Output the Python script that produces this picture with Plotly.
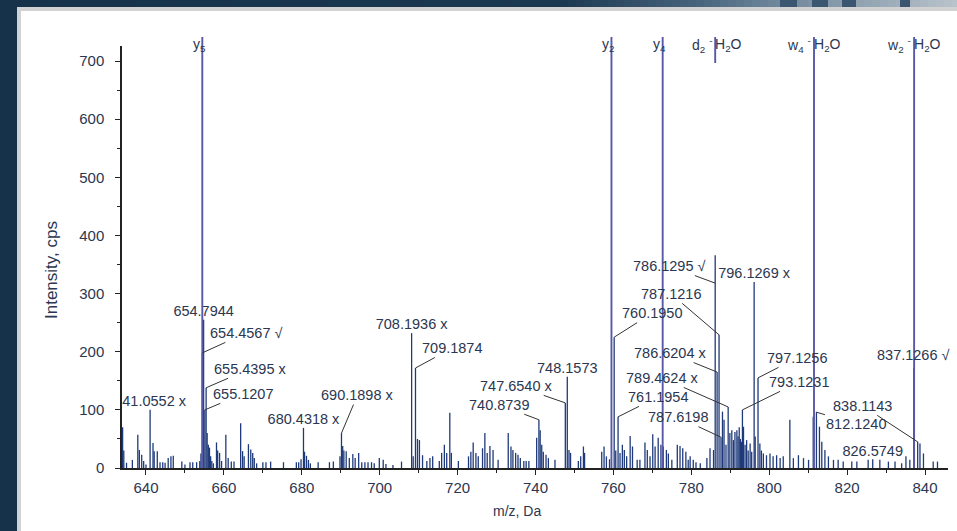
import plotly.graph_objects as go

# ---------------- data ----------------
peak_mz = [634.0, 634.3, 635.0, 636.5, 637.9, 638.3, 638.9, 639.4, 640.0, 641.0552, 641.8, 642.1, 642.9,
           643.6, 644.3, 644.9, 645.7, 646.4, 647.0, 649.2, 650.0, 651.3, 652.0, 653.0, 653.8, 654.1,
           654.4567, 654.7944, 655.1207, 655.4395, 655.7, 656.0, 656.3, 656.6, 656.9, 657.3, 658.1, 658.4,
           658.9, 659.4, 660.5, 661.1, 661.9, 662.6, 664.3, 664.8, 665.2, 666.3, 666.9, 667.4, 667.8, 668.4,
           670.0, 670.8, 672.0, 675.3, 678.6, 679.2, 679.8, 680.4318, 680.7, 681.2, 681.7, 682.2, 684.2,
           687.1, 688.1, 689.8, 690.1898, 690.5, 690.8, 691.4, 692.2, 693.1, 693.7, 694.6, 695.4, 696.2,
           697.0, 697.9, 698.6, 699.9, 700.9, 701.6, 703.4, 705.6, 708.1936, 708.6, 709.1874, 709.7, 710.2,
           711.0, 712.1, 712.9, 713.6, 715.3, 715.9, 716.6, 717.2, 718.0, 718.4, 720.2, 722.8, 723.4, 724.0,
           724.7, 725.3, 726.4, 727.0, 727.6, 728.3, 729.1, 730.4, 733.0, 733.7, 734.2, 734.9, 735.5, 736.1,
           737.0, 737.6, 738.3, 740.3, 740.8739, 741.2, 741.6, 742.0, 742.7, 743.3, 745.0, 747.654,
           748.1573, 748.6, 749.0, 751.0, 751.6, 752.3, 752.6, 757.0, 757.6, 758.2, 759.0, 760.195, 760.6,
           761.1954, 761.7, 762.3, 762.8, 763.4, 764.3, 764.9, 766.1, 766.8, 768.1, 768.7, 769.4, 770.1,
           770.7, 771.5, 772.2, 772.8, 773.6, 774.1, 775.0, 776.4, 777.1, 777.8, 778.6, 779.2, 779.7, 780.5,
           781.2, 782.3, 784.0, 784.8, 785.7, 786.1295, 786.6204, 787.1216, 787.6198, 788.0, 788.4, 788.9,
           789.4624, 789.9, 790.4, 790.8, 791.2, 791.7, 792.0, 792.3, 792.6, 792.9, 793.1231, 793.4, 793.8,
           794.2, 794.6, 795.1, 795.5, 796.1269, 796.4, 797.1256, 797.6, 798.0, 798.5, 799.3, 800.2, 801.0,
           801.9, 802.8, 803.6, 805.3, 806.2, 807.5, 808.8, 810.1, 811.3, 812.124, 812.9, 813.5, 814.3,
           815.2, 816.5, 817.7, 819.0, 821.2, 822.5, 825.4, 826.5749, 828.4, 830.6, 832.3, 834.0, 835.1,
           836.1, 837.1266, 838.1143, 838.7, 839.6, 842.1, 843.2]
peak_int = [70, 30, 9, 14, 57, 31, 23, 12, 6, 100, 43, 29, 29,
            10, 10, 9, 17, 20, 21, 11, 6, 10, 10, 10, 12, 25,
            198, 255, 100, 138, 60, 40, 35, 20, 12, 8, 44, 30,
            26, 12, 57, 17, 11, 11, 77, 29, 20, 41, 32, 26, 17, 8,
            10, 10, 11, 10, 10, 10, 15, 69, 28, 21, 14, 8, 10,
            10, 11, 20, 60, 38, 30, 29, 17, 24, 17, 26, 10, 10,
            10, 10, 8, 17, 14, 7, 5, 11, 232, 20, 172, 50, 48,
            22, 12, 17, 20, 12, 26, 40, 26, 95, 26, 12, 20, 28, 44,
            26, 20, 34, 60, 26, 38, 31, 14, 60, 37, 31, 26, 23, 17,
            12, 12, 12, 52, 83, 65, 40, 28, 23, 17, 14, 112,
            157, 31, 26, 12, 20, 37, 26, 28, 37, 20, 15, 225, 30,
            88, 26, 40, 31, 20, 55, 37, 14, 14, 44, 31, 20, 58,
            37, 52, 40, 37, 31, 25, 14, 40, 38, 34, 28, 14, 20, 14,
            10, 8, 17, 34, 31, 366, 165, 229, 53, 97, 83, 40,
            105, 60, 65, 48, 62, 65, 54, 70, 50, 45, 100, 71, 40,
            48, 30, 42, 28, 320, 54, 155, 42, 30, 25, 22, 25, 20,
            22, 17, 20, 83, 17, 22, 17, 14, 88, 96, 71, 45, 31,
            20, 14, 14, 11, 11, 11, 14, 15, 14, 11, 11, 8, 20,
            14, 172, 45, 42, 25, 11, 11]

# fragment-ion markers (full-height lines with labels at the top)
frag_mz = [654.4567, 759.5, 772.65, 811.5, 837.2]
frag_label = ["y<sub>5</sub>", "y<sub>2</sub>", "y<sub>4</sub>", "w<sub>4</sub> <sup>-</sup>", "w<sub>2</sub> <sup>-</sup>"]
frag_suffix = ["", "", "", "H<sub>2</sub>O", "H<sub>2</sub>O"]
short_mz = [786.1295]
short_label = ["d<sub>2</sub> <sup>-</sup>"]
short_suffix = ["H<sub>2</sub>O"]

# peak labels centred above the peak
top_mz = [641.0552, 654.7944, 680.4318, 708.1936, 748.1573, 796.1269, 826.5749, 837.1266]
top_text = ["641.0552 x", "654.7944", "680.4318 x", "708.1936 x", "748.1573", "796.1269 x", "826.5749", "837.1266 √"]

# peak labels with leader lines
lead_mz = [654.4567, 655.4395, 655.1207, 690.1898, 709.1874, 747.654, 740.8739, 760.195, 761.1954,
           786.1295, 787.1216, 786.6204, 789.4624, 787.6198, 797.1256, 793.1231, 838.1143, 812.124]
lead_text = ["654.4567 √", "655.4395 x", "655.1207", "690.1898 x", "709.1874", "747.6540 x", "740.8739",
             "760.1950", "761.1954", "786.1295 √", "787.1216", "786.6204 x", "789.4624 x", "787.6198",
             "797.1256", "793.1231", "838.1143", "812.1240"]

x_ticks = [640, 660, 680, 700, 720, 740, 760, 780, 800, 820, 840]
y_ticks = [0, 100, 200, 300, 400, 500, 600, 700]

# ---------------- layout constants (pixels) ----------------
W, H = 957, 531
L, R, T, B = 122, 948, 46, 468
PW, PH = R - L, B - T
XR = [633.84, 845.9]
YR = [0, 725.8]

def px(p):
    return (p - L) / PW

def py(p):
    return (B - p) / PH

# leader offsets (label centre relative to target, pixels)
lead_off = [(44, -20), (44, -19), (38, -16), (16, -38), (37, -20), (-49, -17), (-40, -15), (38, -24),
            (40, -20), (-46, -17), (-48, -41), (-47, -19), (-66, -29), (-43, -20), (39, -20), (57, -28),
            (-55, -36), (40, 12)]
lead_target_override = {786.1295: 318}

FONT = "Liberation Sans, Arial, sans-serif"
TXT = "#2b3650"
BAR = "#1f3a7a"
FRAG = "#5858a8"

inten = dict(zip(peak_mz, peak_int))

fig = go.Figure()

# stick spectrum
sx, sy = [], []
for m, v in zip(peak_mz, peak_int):
    sx += [m, m, None]
    sy += [0, v, None]
fig.add_trace(go.Scatter(x=sx, y=sy, mode="lines", line=dict(color=BAR, width=1.3),
                         hoverinfo="skip", showlegend=False))

# centred labels (clipped to plot area)
clip_mz = [m for m in top_mz if m != 837.1266]
fig.add_trace(go.Scatter(x=clip_mz, y=[inten[m] for m in clip_mz], mode="text",
                         text=[t for m, t in zip(top_mz, top_text) if m != 837.1266],
                         textposition="top center", cliponaxis=True,
                         textfont=dict(family=FONT, size=14.5, color=TXT),
                         hoverinfo="skip", showlegend=False))

shapes = []
annotations = []

for m, t in zip(top_mz, top_text):
    if m == 837.1266:
        annotations.append(dict(x=m, y=inten[m], xref="x", yref="y", text=t, showarrow=False,
                                xanchor="center", yanchor="bottom", yshift=3,
                                font=dict(family=FONT, size=14.5, color=TXT)))

# fragment lines
for m in frag_mz:
    shapes.append(dict(type="line", xref="x", yref="paper", x0=m, x1=m, y0=0, y1=py(37),
                       line=dict(color=FRAG, width=1.9)))
for m in short_mz:
    shapes.append(dict(type="line", xref="x", yref="paper", x0=m, x1=m, y0=py(63), y1=py(37),
                       line=dict(color=FRAG, width=1.9)))

for m, lab, suf in zip(frag_mz + short_mz, frag_label + short_label, frag_suffix + short_suffix):
    if suf:
        annotations.append(dict(x=m, y=py(45), xref="x", yref="paper", text=lab, showarrow=False,
                                xanchor="right", yanchor="middle", xshift=-1,
                                font=dict(family=FONT, size=14, color=TXT)))
        annotations.append(dict(x=m, y=py(45), xref="x", yref="paper", text=suf, showarrow=False,
                                xanchor="left", yanchor="middle", xshift=-2,
                                font=dict(family=FONT, size=14, color=TXT)))
    else:
        annotations.append(dict(x=m, y=py(45), xref="x", yref="paper", text=lab, showarrow=False,
                                xanchor="center", yanchor="middle", xshift=-3,
                                font=dict(family=FONT, size=14, color=TXT)))

# leader labels
for m, t, (ax, ay) in zip(lead_mz, lead_text, lead_off):
    yv = lead_target_override.get(m, inten[m])
    annotations.append(dict(x=m, y=yv, xref="x", yref="y", text=t, showarrow=True, arrowhead=0,
                            arrowwidth=1, arrowcolor="#333333", ax=ax, ay=ay, standoff=0,
                            font=dict(family=FONT, size=14.5, color=TXT)))

# axis titles
annotations.append(dict(x=px(517), y=py(511), xref="paper", yref="paper", text="m/z, Da", showarrow=False,
                        xanchor="center", yanchor="middle", font=dict(family=FONT, size=14, color=TXT)))
annotations.append(dict(x=px(51), y=py(270), xref="paper", yref="paper", text="Intensity, cps", showarrow=False,
                        textangle=-90, xanchor="center", yanchor="middle",
                        font=dict(family=FONT, size=17, color=TXT)))

# slide frame
shapes.append(dict(type="rect", xref="paper", yref="paper", x0=px(0), x1=px(17), y0=py(H), y1=py(0),
                   fillcolor="#15324a", line=dict(width=0), layer="below"))
shapes.append(dict(type="rect", xref="paper", yref="paper", x0=px(17), x1=px(21), y0=py(H), y1=py(7),
                   fillcolor="#d2d2d2", line=dict(width=0), layer="below"))
shapes.append(dict(type="rect", xref="paper", yref="paper", x0=px(17), x1=px(W), y0=py(11), y1=py(7),
                   fillcolor="#d2d2d2", line=dict(width=0), layer="below"))

def lerp(c1, c2, t):
    a = [int(c1[i:i + 2], 16) for i in (1, 3, 5)]
    b = [int(c2[i:i + 2], 16) for i in (1, 3, 5)]
    return "#%02x%02x%02x" % tuple(round(a[k] + (b[k] - a[k]) * t) for k in range(3))

stops = [(0, "#15324a"), (560, "#1a3850"), (700, "#48657d"), (770, "#6b8498"), (957, "#b9c3cc")]
step = 8
for x0 in range(0, W, step):
    xc = x0 + step / 2
    for (a, ca), (b, cb) in zip(stops[:-1], stops[1:]):
        if a <= xc <= b:
            col = lerp(ca, cb, (xc - a) / (b - a))
            break
    shapes.append(dict(type="rect", xref="paper", yref="paper", x0=px(x0), x1=px(min(x0 + step, W)),
                       y0=py(7), y1=py(0), fillcolor=col, line=dict(width=0), layer="below"))
for a, b in [(780, 797), (812, 828), (842, 856), (900, 910)]:
    shapes.append(dict(type="rect", xref="paper", yref="paper", x0=px(a), x1=px(b),
                       y0=py(7), y1=py(0), fillcolor="#3a5670", line=dict(width=0), layer="below"))

fig.update_layout(
    width=W, height=H,
    margin=dict(l=L, r=W - R, t=T, b=H - B, pad=0),
    paper_bgcolor="white", plot_bgcolor="white",
    showlegend=False,
    shapes=shapes, annotations=annotations,
    font=dict(family=FONT, color=TXT),
    xaxis=dict(range=XR, tickmode="array", tickvals=x_ticks, ticks="outside", ticklen=5, tickwidth=1,
               tickcolor="#222", showline=True, linecolor="#222", linewidth=1.5, showgrid=False,
               zeroline=False, tickfont=dict(family=FONT, size=15, color=TXT),
               minor=dict(dtick=10, tick0=0, ticks="outside", ticklen=3, tickcolor="#222", showgrid=False)),
    yaxis=dict(range=YR, tickmode="array", tickvals=y_ticks, ticks="outside", ticklen=5, tickwidth=1,
               tickcolor="#222", showline=True, linecolor="#222", linewidth=1.5, showgrid=False,
               zeroline=False, tickfont=dict(family=FONT, size=15, color=TXT), ticklabelstandoff=8,
               minor=dict(dtick=50, tick0=0, ticks="outside", ticklen=3, tickcolor="#222", showgrid=False)),
)

fig.write_html("out.html", config={"displayModeBar": False, "responsive": False},
               post_script="document.body.style.margin='0px';document.body.style.overflow='hidden';")
